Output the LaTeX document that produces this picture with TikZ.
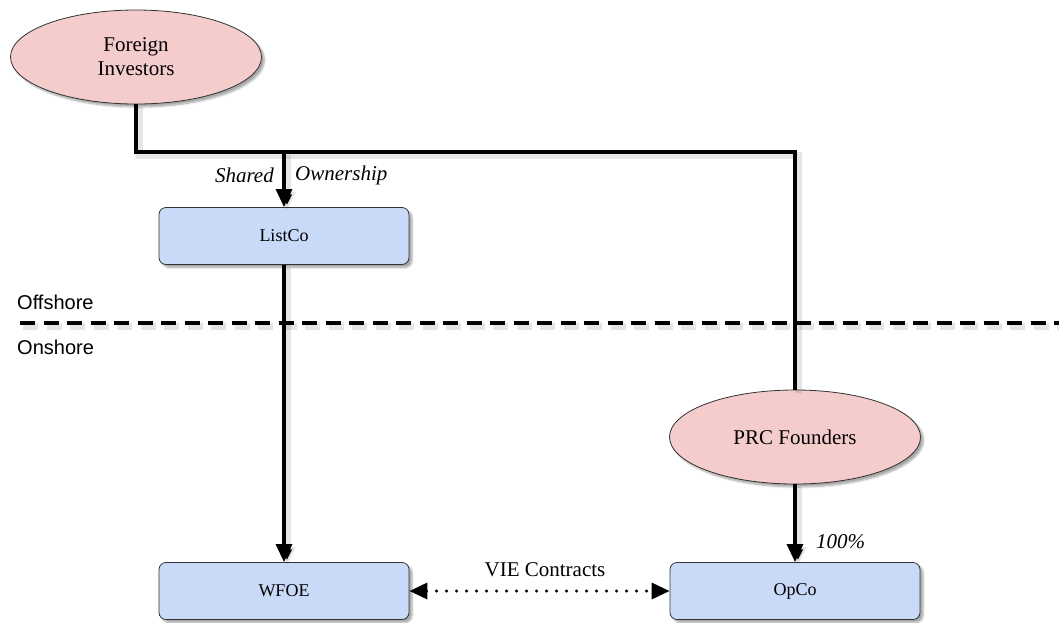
\documentclass[tikz,border=0pt]{standalone}
\usepackage{fontspec}
\setmainfont{Liberation Serif}
\newfontfamily\labelsans{Liberation Sans}
\usetikzlibrary{shapes.geometric,arrows.meta,shadows.blur}
\definecolor{partypink}{HTML}{F4CCCC}
\definecolor{entityblue}{HTML}{C9DAF8}
\definecolor{edgegray}{HTML}{333333}
\tikzset{
  softshadow/.style={blur shadow={shadow xshift=3pt, shadow yshift=-3pt, shadow blur steps=6, shadow opacity=35}},
  lineshadow/.style={preaction={draw=black, draw opacity=0.10, line width=7pt,
    transform canvas={shift={(3pt,-3pt)}}}},
  party/.style={ellipse, draw=edgegray, line width=0.8pt, fill=partypink,
    minimum width=251pt, minimum height=94pt, inner sep=0pt, align=center,
    font=\fontsize{21}{24}\selectfont, softshadow},
  entity/.style={rectangle, rounded corners=7pt, draw=edgegray, line width=0.8pt, fill=entityblue,
    minimum width=250pt, minimum height=57pt, inner sep=0pt,
    font=\fontsize{18}{21}\selectfont, softshadow},
  tip/.tip={Triangle[length=18pt,width=16pt]},
  owns/.style={lineshadow, line width=3.2pt, -tip},
  link/.style={lineshadow, line width=3.2pt},
  vie/.style={line width=3.4pt, dash pattern=on 0pt off 10pt, line cap=round, tip-tip},
  border/.style={line width=3.2pt, dash pattern=on 15pt off 8.5pt,
    preaction={draw=black, draw opacity=0.10, line width=7pt, dash pattern=on 15pt off 8.5pt,
      transform canvas={shift={(3pt,-3pt)}}}},
  tag/.style={font=\fontsize{21}{24}\selectfont\itshape, inner sep=0pt},
  sidetag/.style={font=\fontsize{20}{23}\labelsans, inner sep=0pt, anchor=west},
}
\begin{document}
\begin{tikzpicture}[x=1pt, y=-1pt]
  \useasboundingbox (0,0) rectangle (1059,622);

  % offshore / onshore boundary
  \coordinate (bl) at (20,323);
  \coordinate (br) at (1059,323);
  \draw[border] (bl) -- (br);
  \node[sidetag] (off) at (17,302) {Offshore};
  \node[sidetag] (on) at (17,347) {Onshore};

  % parties and entities
  \node[party] (fi) at (136,57) {Foreign\\Investors};
  \node[party] (prc) at (795,437) {PRC Founders};
  \node[entity] (listco) at (284,236) {ListCo};
  \node[entity] (wfoe) at (284,591) {WFOE};
  \node[entity] (opco) at (795,591) {OpCo};

  % shared ownership of ListCo
  \coordinate (j1) at (136,152);
  \coordinate (j2) at (284,152);
  \coordinate (j3) at (795,152);
  \draw[link] (fi.south) -- (j1) -- (j3) -- (prc.north);
  \draw[owns] (j2) -- (listco.north);
  \node[tag, anchor=east] (sh) at (274,175) {Shared};
  \node[tag, anchor=west] (ow) at (295,175) {Ownership};

  % ListCo owns WFOE
  \draw[owns] (listco.south) -- (wfoe.north);

  % founders own OpCo
  \draw[owns] (prc.south) -- (opco.north);
  \node[tag, anchor=west] (pct) at (816,542) {100\%};

  % contractual control
  \draw[vie] (wfoe.east) -- (opco.west);
  \node[font=\fontsize{21}{24}\selectfont, inner sep=0pt] (viet) at (545,570) {VIE Contracts};
\end{tikzpicture}
\end{document}
